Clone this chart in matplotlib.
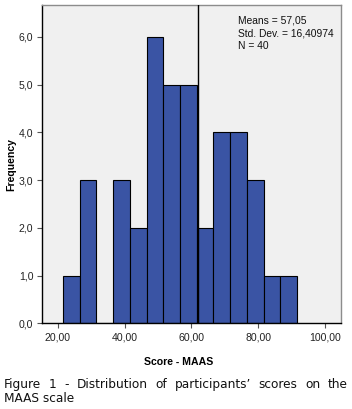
import matplotlib.pyplot as plt
import numpy as np

# histogram of MAAS scores (SPSS style)
bin_start = 21.6
bin_width = 5.0
counts = [1, 3, 0, 3, 2, 6, 5, 5, 2, 4, 4, 3, 1, 1]
mean_line = 61.9
stats_lines = ["Means = 57,05", "Std. Dev. = 16,40974", "N = 40"]
xticks = [20, 40, 60, 80, 100]
yticks = [0, 1, 2, 3, 4, 5, 6]
caption_1 = "Figure 1 - Distribution of participants\u2019 scores on the"
caption_2 = "MAAS scale"

W, H = 352, 409
fig = plt.figure(figsize=(W / 100, H / 100), dpi=100)
ax = fig.add_axes([42.3 / W, 1 - 323.3 / H, (340.7 - 42.3) / W, (323.3 - 5) / H])
ax.set_facecolor('#f0f0f0')

lefts = bin_start + bin_width * np.arange(len(counts))
ax.bar(lefts, counts, width=bin_width, align='edge', color='#3a54a4',
       edgecolor='black', linewidth=0.8, zorder=2)
ax.axvline(mean_line, color='black', linewidth=1, zorder=3)

ax.set_xlim(15.4, 104.7)
ax.set_ylim(0, 6.67)
ax.set_xticks(xticks)
ax.set_xticklabels([f"{v:.2f}".replace('.', ',') for v in xticks])
ax.set_yticks(yticks)
ax.set_yticklabels([f"{v:.1f}".replace('.', ',') for v in yticks])

for lab in ax.get_xticklabels() + ax.get_yticklabels():
    lab.set_fontfamily('Liberation Sans')
    lab.set_fontsize(7.6)
    lab.set_color('#222222')
ax.tick_params(axis='both', length=3.5, width=0.8, color='#555555', pad=3)

for s in ['left', 'bottom']:
    ax.spines[s].set_color('black')
    ax.spines[s].set_linewidth(1)
for s in ['top', 'right']:
    ax.spines[s].set_color('#8c8c8c')
    ax.spines[s].set_linewidth(1)

ax.set_ylabel('Frequency', family='Liberation Sans', fontsize=7.6,
              fontweight='bold', va='center')
ax.yaxis.set_label_coords((11.7 - 42.3) / 298.4, 0.5)
fig.text(179 / W, 1 - 362 / H, 'Score - MAAS', family='Liberation Sans',
         fontsize=7.6, fontweight='bold', ha='center', va='center')

for i, line in enumerate(stats_lines):
    fig.text(238.3 / W, 1 - (20.7 + 12.5 * i) / H, line, family='Liberation Sans',
             fontsize=7.4, color='#111111', ha='left', va='center')

# caption, first line justified between x=4 and x=348
cap_font = dict(family='DejaVu Sans', fontsize=8.7, color='#111111')
words = caption_1.split(' ')
renderer = fig.canvas.get_renderer()
widths = []
for w in words:
    t = fig.text(0, 0, w, **cap_font)
    widths.append(t.get_window_extent(renderer).width)
    t.remove()
x0, x1 = 4.0, 348.0
gap = (x1 - x0 - sum(widths)) / (len(words) - 1)
x = x0
for w, wd in zip(words, widths):
    fig.text(x / W, 1 - 388.3 / H, w, ha='left', va='baseline', **cap_font)
    x += wd + gap
fig.text(x0 / W, 1 - 401.7 / H, caption_2, ha='left', va='baseline', **cap_font)

fig.savefig('out.png', dpi=100)
